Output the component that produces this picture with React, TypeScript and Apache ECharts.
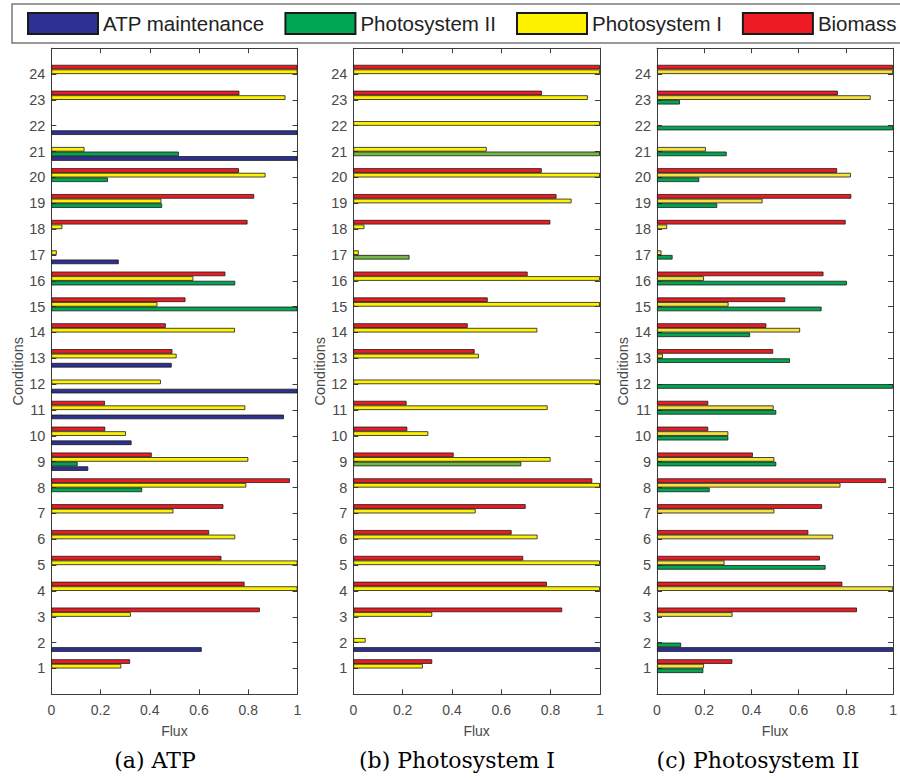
import React, { useEffect, useRef } from 'react';
import * as echarts from 'echarts';

// Conditions 1..24 (index 0 = condition 1)
const categories = ['1','2','3','4','5','6','7','8','9','10','11','12','13','14','15','16','17','18','19','20','21','22','23','24'];
const seriesNames = ['ATP maintenance', 'Photosystem II', 'Photosystem I', 'Biomass'];
const panelCaptions = ['(a) ATP', '(b) Photosystem I', '(c) Photosystem II'];
const xTickValues = [0, 0.2, 0.4, 0.6, 0.8, 1];

// Panel (a) ATP
const atpA     = [0, 0.611, 0, 0, 0, 0, 0, 0, 0.150, 0.326, 0.945, 1.0, 0.489, 0, 0, 0, 0.274, 0, 0, 0, 1.0, 1.0, 0, 0];
const psiiA    = [0, 0, 0, 0, 0, 0, 0, 0.369, 0.107, 0, 0, 0, 0, 0, 1.0, 0.747, 0, 0, 0.450, 0.230, 0.518, 0, 0, 0];
const psiA     = [0.284, 0, 0.323, 1.0, 1.0, 0.747, 0.496, 0.792, 0.800, 0.303, 0.788, 0.445, 0.509, 0.746, 0.431, 0.577, 0.022, 0.045, 0.447, 0.870, 0.135, 0, 0.951, 1.0];
const biomassA = [0.320, 0, 0.847, 0.785, 0.691, 0.641, 0.699, 0.969, 0.408, 0.219, 0.218, 0, 0.492, 0.465, 0.545, 0.707, 0, 0.797, 0.824, 0.762, 0, 0, 0.764, 1.0];

// Panel (b) Photosystem I
const atpB     = [0, 1.0, 0, 0, 0, 0, 0, 0, 0, 0, 0, 0, 0, 0, 0, 0, 0, 0, 0, 0, 0, 0, 0, 0];
const psiiB    = [0, 0, 0, 0, 0, 0, 0, 0, 0.681, 0, 0, 0, 0, 0, 0, 0, 0.228, 0, 0, 0, 1.0, 0, 0, 0];
const psiB     = [0.282, 0.050, 0.320, 1.0, 1.0, 0.747, 0.496, 1.0, 0.800, 0.304, 0.788, 1.0, 0.509, 0.746, 1.0, 1.0, 0.022, 0.045, 0.885, 1.0, 0.541, 1.0, 0.951, 1.0];
const biomassB = [0.320, 0, 0.847, 0.785, 0.689, 0.642, 0.699, 0.969, 0.407, 0.219, 0.216, 0, 0.492, 0.464, 0.545, 0.707, 0, 0.799, 0.824, 0.764, 0, 0, 0.765, 1.0];

// Panel (c) Photosystem II
const atpC     = [0, 1.0, 0, 0, 0, 0, 0, 0, 0, 0, 0, 0, 0, 0, 0, 0, 0, 0, 0, 0, 0, 0, 0, 0];
const psiiC    = [0.196, 0.102, 0, 0, 0.714, 0, 0, 0.223, 0.505, 0.302, 0.505, 1.0, 0.563, 0.394, 0.697, 0.804, 0.066, 0, 0.255, 0.179, 0.295, 1.0, 0.097, 0];
const psiC     = [0.199, 0, 0.320, 1.0, 0.286, 0.746, 0.497, 0.777, 0.497, 0.302, 0.494, 0, 0.025, 0.606, 0.303, 0.199, 0.019, 0.043, 0.447, 0.821, 0.207, 0, 0.905, 1.0];
const biomassC = [0.319, 0, 0.847, 0.785, 0.690, 0.641, 0.699, 0.970, 0.406, 0.217, 0.217, 0, 0.492, 0.463, 0.543, 0.705, 0, 0.799, 0.823, 0.763, 0, 0, 0.766, 1.0];

const panels = [
  { atp: atpA, psii: psiiA, psi: psiA, biomass: biomassA },
  { atp: atpB, psii: psiiB, psi: psiB, biomass: biomassB },
  { atp: atpC, psii: psiiC, psi: psiC, biomass: biomassC },
];

const panelColors = [
  { atp: '#2e3192', psii: '#00a651', psi: '#fff200', biomass: '#ed1c24' },
  { atp: '#2e3192', psii: '#72b843', psi: '#fff200', biomass: '#ed1c24' },
  { atp: '#2e3192', psii: '#00a651', psi: '#f5e23a', biomass: '#ed1c24' },
];

const gridLayout = [
  { left: 51.3, width: 246.2 },
  { left: 353.3, width: 246.6 },
  { left: 657, width: 242 },
];
const captionX = [155, 457, 758];

export default function App() {
  const ref = useRef<HTMLDivElement>(null);
  useEffect(() => {
    document.body.style.margin = '0';
    if (!ref.current) return;
    const chart = echarts.init(ref.current, undefined, { renderer: 'svg' });
    const axisCats = ['0', ...categories, '25'];
    const lineColor = '#3c3c3c';
    const labelColor = '#4a4a4a';
    const font = 'Liberation Sans';
    const TOP = 48.2;
    const HEIGHT = 646.1;

    const grids: any[] = [];
    const xAxes: any[] = [];
    const yAxes: any[] = [];
    const series: any[] = [];

    panels.forEach((p, i) => {
      grids.push({ left: gridLayout[i].left, width: gridLayout[i].width, top: TOP, height: HEIGHT, containLabel: false });
      const xBase = {
        type: 'value', gridIndex: i, min: xTickValues[0], max: xTickValues[xTickValues.length - 1], interval: 0.2,
        axisLine: { show: true, onZero: false, lineStyle: { color: lineColor, width: 1 } },
        axisTick: { show: true, inside: true, length: 5, lineStyle: { color: lineColor } },
        splitLine: { show: false },
      };
      xAxes.push({
        ...xBase, position: 'bottom',
        axisLabel: { show: true, color: labelColor, fontSize: 14, fontFamily: font, margin: 9 },
        name: 'Flux', nameLocation: 'middle', nameGap: 30,
        nameTextStyle: { color: labelColor, fontSize: 14, fontFamily: font },
      });
      xAxes.push({ ...xBase, position: 'top', axisLabel: { show: false } });
      const yBase = {
        type: 'category', gridIndex: i, data: axisCats, boundaryGap: false,
        axisLine: { show: true, onZero: false, lineStyle: { color: lineColor, width: 1 } },
        axisTick: { show: true, inside: true, length: 5, interval: (idx: number) => idx > 0 && idx < axisCats.length - 1, lineStyle: { color: lineColor } },
        splitLine: { show: false },
      };
      yAxes.push({
        ...yBase, position: 'left',
        axisLabel: { show: true, interval: 0, color: labelColor, fontSize: 14.5, fontFamily: font, margin: 6,
          formatter: (v: string, idx: number) => (idx > 0 && idx < axisCats.length - 1 ? v : '') },
        name: 'Conditions', nameLocation: 'middle', nameGap: 26,
        nameTextStyle: { color: labelColor, fontSize: 14.5, fontFamily: font },
      });
      yAxes.push({ ...yBase, position: 'right', axisLabel: { show: false } });

      const defs = [
        { name: seriesNames[3], vals: p.biomass, color: panelColors[i].biomass },
        { name: seriesNames[2], vals: p.psi, color: panelColors[i].psi },
        { name: seriesNames[1], vals: p.psii, color: panelColors[i].psii },
        { name: seriesNames[0], vals: p.atp, color: panelColors[i].atp },
      ];
      defs.forEach((d) => {
        series.push({
          type: 'bar', name: d.name, xAxisIndex: i * 2, yAxisIndex: i * 2,
          barWidth: 4.6, barGap: '0%',
          itemStyle: { color: d.color, borderColor: '#1a1a1a', borderWidth: 0.8 },
          data: d.vals.map((v, k) => (v > 0 ? [v, categories[k]] : null)).filter((x) => x !== null),
        });
      });
    });

    chart.setOption({
      animation: false,
      backgroundColor: '#ffffff',
      legend: {
        data: seriesNames, left: 27, top: 12, padding: 0, itemWidth: 70, itemHeight: 21, itemGap: 20,
        icon: 'rect', selectedMode: false,
        textStyle: { fontSize: 20.5, fontFamily: font, color: '#222' },
      },
      grid: grids, xAxis: xAxes, yAxis: yAxes, series,
      graphic: [
        { type: 'rect', shape: { x: 12, y: 4, width: 900, height: 39 }, style: { fill: 'none', stroke: '#7a7a7a', lineWidth: 1.5 }, silent: true },
        ...panelCaptions.map((t, i) => ({
          type: 'text', x: captionX[i], y: 760,
          style: { text: t, fontSize: 22, fontFamily: 'DejaVu Serif', fill: '#000', align: 'center', verticalAlign: 'middle' },
        })),
      ],
    });
    return () => chart.dispose();
  }, []);
  return <div ref={ref} style={{ width: 900, height: 778 }} />;
}
